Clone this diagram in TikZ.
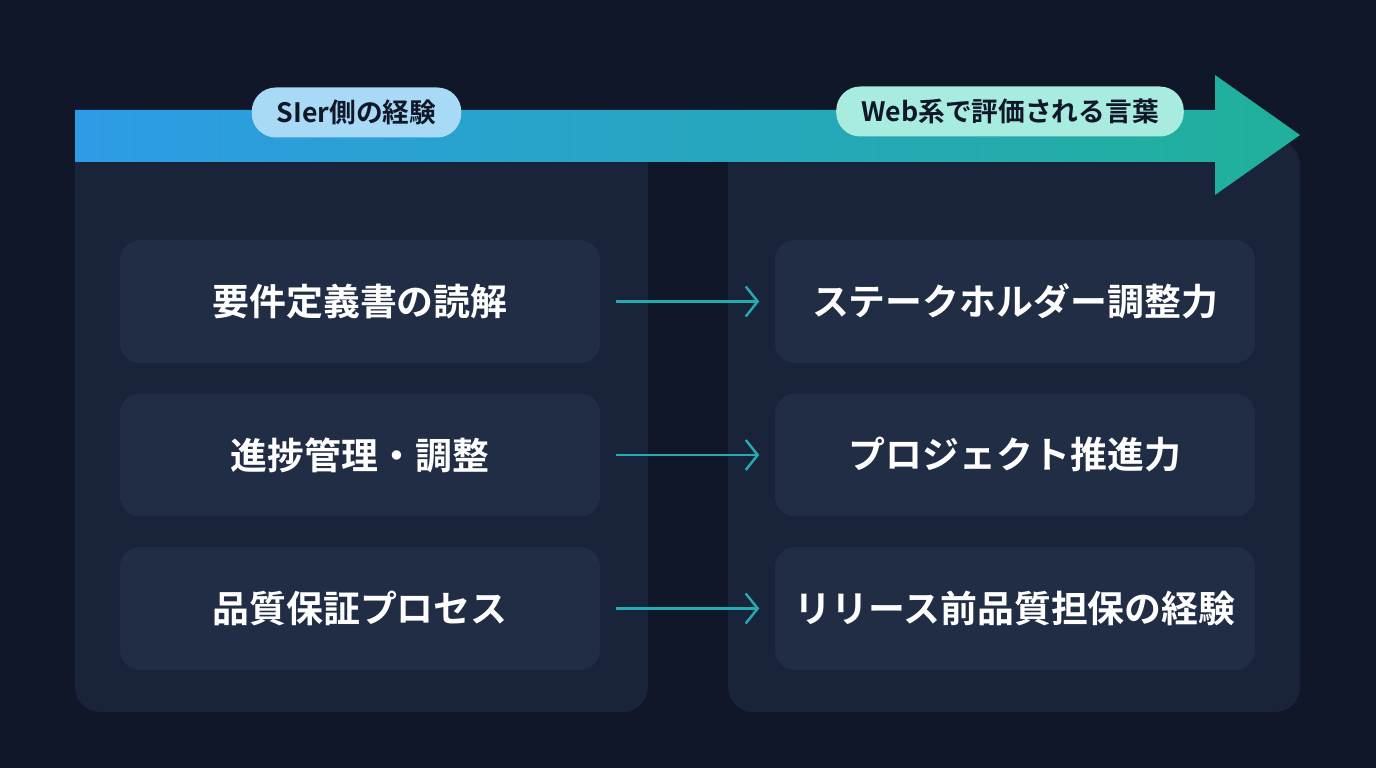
\documentclass[tikz,border=0pt]{standalone}
\usepackage{fontspec}
\setmainfont{Noto Sans CJK JP}[BoldFont={Noto Sans CJK JP Bold}]
\usetikzlibrary{positioning,arrows.meta}
\definecolor{bgnavy}{HTML}{0F1729}
\definecolor{panelnavy}{HTML}{19233A}
\definecolor{boxnavy}{HTML}{212D45}
\definecolor{arrblue}{HTML}{2D9BE6}
\definecolor{arrteal}{HTML}{20B09A}
\definecolor{pillblue}{HTML}{A8DAF5}
\definecolor{pillteal}{HTML}{A8ECDF}
\tikzset{
  item/.style={rectangle,rounded corners=0.2cm,fill=boxnavy,minimum width=4.8cm,minimum height=1.23cm,
    text=white,font=\fontsize{10.5}{12}\selectfont\bfseries},
  pill/.style={rectangle,rounded corners=0.24cm,minimum height=0.5cm,inner xsep=0.25cm,
    text=bgnavy,font=\fontsize{7.6}{9}\selectfont\bfseries},
  link/.style={-{Straight Barb[length=0.12cm,width=0.3cm]},line width=0.7pt,shorten <=0.15cm,shorten >=0.15cm}
}
\begin{document}
\begin{tikzpicture}
\fill[bgnavy] (0,0) rectangle (13.76,7.68);
\useasboundingbox (0,0) rectangle (13.76,7.68);
% panels
\fill[panelnavy,rounded corners=0.25cm] (0.75,0.56) rectangle (6.48,6.28);
\fill[panelnavy,rounded corners=0.25cm] (7.28,0.56) rectangle (13.0,6.28);
% arrow band
\shade[left color=arrblue,right color=arrteal] (0.75,6.06) -- (12.15,6.06) -- (12.15,5.73) -- (13.0,6.33)
  -- (12.15,6.93) -- (12.15,6.58) -- (0.75,6.58) -- cycle;
\node[pill,fill=pillblue] (src) at (3.565,6.555) {SIer側の経験};
\node[pill,fill=pillteal] (dst) at (10.1,6.565) {Web系で評価される言葉};
% items
\node[item] (l1) at (3.6,4.665) {要件定義書の読解};
\node[item] (l2) at (3.6,3.13) {進捗管理・調整};
\node[item] (l3) at (3.6,1.595) {品質保証プロセス};
\node[item] (r1) at (10.15,4.665) {ステークホルダー調整力};
\node[item] (r2) at (10.15,3.13) {プロジェクト推進力};
\node[item] (r3) at (10.15,1.595) {リリース前品質担保の経験};
\foreach \i in {1,2,3}
  \draw[link,draw=arrteal!70!arrblue] (l\i) -- (r\i);
\end{tikzpicture}
\end{document}
